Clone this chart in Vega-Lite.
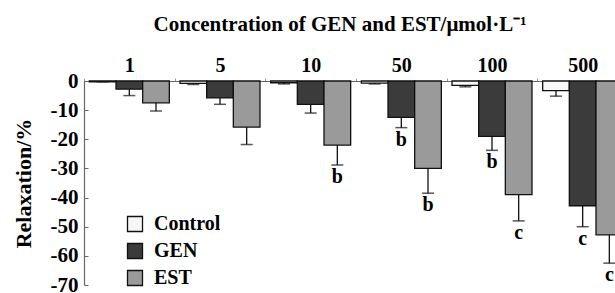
{
  "$schema": "https://vega.github.io/schema/vega-lite/v6.json",
  "width": 544,
  "height": 204,
  "padding": {"left": 12, "top": 14, "right": 0, "bottom": 5},
  "title": {
    "text": "Concentration of GEN and EST/μmol·L⁻¹",
    "font": "Liberation Serif",
    "fontSize": 21,
    "fontWeight": "bold",
    "color": "black",
    "offset": 20,
    "dx": -16,
    "anchor": "middle"
  },
  "config": {
    "view": {"stroke": null},
    "font": "Liberation Serif",
    "axisY": {
      "values": [0, -10, -20, -30, -40, -50, -60, -70],
      "labelExpr": "'' + datum.value",
      "labelOverlap": false,
      "labelFont": "Liberation Serif",
      "labelFontSize": 21,
      "labelFontWeight": "bold",
      "labelColor": "black",
      "tickSize": -4,
      "labelPadding": 10,
      "grid": false,
      "titleFont": "Liberation Serif",
      "titleFontSize": 22,
      "titleFontWeight": "bold",
      "titleColor": "black",
      "titlePadding": 15,
      "domainColor": "#666",
      "domainWidth": 1.2,
      "tickColor": "#666"
    }
  },
  "data": {
    "values": [
      {"conc": "1", "series": "Control", "value": -0.3, "low": -0.3, "sig": ""},
      {"conc": "1", "series": "GEN", "value": -2.8, "low": -5.0, "sig": ""},
      {"conc": "1", "series": "EST", "value": -7.5, "low": -10.3, "sig": ""},
      {"conc": "5", "series": "Control", "value": -0.8, "low": -1.2, "sig": ""},
      {"conc": "5", "series": "GEN", "value": -5.8, "low": -8.0, "sig": ""},
      {"conc": "5", "series": "EST", "value": -15.8, "low": -21.8, "sig": ""},
      {"conc": "10", "series": "Control", "value": -0.6, "low": -1.0, "sig": ""},
      {"conc": "10", "series": "GEN", "value": -8.0, "low": -11.0, "sig": ""},
      {"conc": "10", "series": "EST", "value": -22.0, "low": -28.8, "sig": "b"},
      {"conc": "50", "series": "Control", "value": -0.7, "low": -1.0, "sig": ""},
      {"conc": "50", "series": "GEN", "value": -12.5, "low": -16.0, "sig": "b"},
      {"conc": "50", "series": "EST", "value": -30.0, "low": -38.5, "sig": "b"},
      {"conc": "100", "series": "Control", "value": -1.5, "low": -2.0, "sig": ""},
      {"conc": "100", "series": "GEN", "value": -19.0, "low": -23.8, "sig": "b"},
      {"conc": "100", "series": "EST", "value": -39.0, "low": -48.0, "sig": "c"},
      {"conc": "500", "series": "Control", "value": -3.3, "low": -5.2, "sig": ""},
      {"conc": "500", "series": "GEN", "value": -42.8, "low": -50.0, "sig": "c"},
      {"conc": "500", "series": "EST", "value": -52.8, "low": -62.5, "sig": "c"}
    ]
  },
  "encoding": {
    "x": {
      "field": "conc",
      "type": "nominal",
      "sort": ["1", "5", "10", "50", "100", "500"],
      "scale": {"paddingInner": 0, "paddingOuter": 0},
      "axis": {
        "orient": "top",
        "title": null,
        "labelAngle": 0,
        "labelFont": "Liberation Serif",
        "labelFontSize": 20,
        "labelFontWeight": "bold",
        "labelColor": "black",
        "tickBand": "extent",
        "tickSize": 3,
        "labelPadding": 3,
        "domainColor": "#666",
        "tickColor": "#999",
        "domainWidth": 1.2
      }
    },
    "xOffset": {
      "field": "series",
      "type": "nominal",
      "sort": ["Control", "GEN", "EST"],
      "scale": {"paddingOuter": 0.2, "paddingInner": 0}
    }
  },
  "layer": [
    {
      "mark": {"type": "bar", "stroke": "#111", "strokeWidth": 1.3},
      "encoding": {
        "y": {
          "field": "value",
          "type": "quantitative",
          "title": "Relaxation/%",
          "scale": {"domain": [-70, 0], "nice": false}
        },
        "color": {
          "field": "series",
          "type": "nominal",
          "sort": ["Control", "GEN", "EST"],
          "scale": {"domain": ["Control", "GEN", "EST"], "range": ["#f7f7f7", "#3b3b3b", "#9a9a9a"]},
          "legend": {
            "orient": "none",
            "legendX": 41,
            "legendY": 133,
            "title": null,
            "symbolType": "square",
            "symbolSize": 225,
            "symbolStrokeColor": "#111",
            "symbolStrokeWidth": 1.3,
            "symbolOpacity": 1,
            "labelFont": "Liberation Serif",
            "labelFontSize": 20,
            "labelFontWeight": "bold",
            "labelColor": "black",
            "rowPadding": 5,
            "labelOffset": 9
          }
        }
      }
    },
    {
      "mark": {"type": "rule", "color": "#111", "strokeWidth": 1.3},
      "encoding": {
        "y": {"field": "value", "type": "quantitative", "title": "Relaxation/%"},
        "y2": {"field": "low"}
      }
    },
    {
      "mark": {"type": "tick", "color": "#111", "thickness": 1.5, "size": 12, "orient": "horizontal"},
      "encoding": {
        "y": {"field": "low", "type": "quantitative", "title": "Relaxation/%"}
      }
    },
    {
      "mark": {"type": "text", "baseline": "top", "dy": 2, "font": "Liberation Serif", "fontSize": 20, "fontWeight": "bold", "color": "black"},
      "encoding": {
        "y": {"field": "low", "type": "quantitative", "title": "Relaxation/%"},
        "text": {"field": "sig"}
      }
    }
  ]
}
